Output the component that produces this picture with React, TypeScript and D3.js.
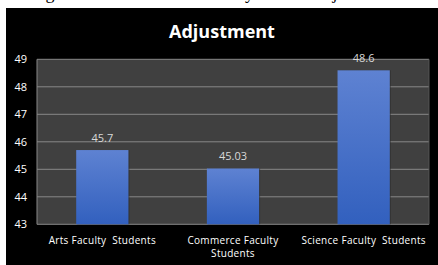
import React from "react";
import * as d3 from "d3";

const categories: string[][] = [
  ["Arts Faculty  Students"],
  ["Commerce Faculty", "Students"],
  ["Science Faculty  Students"],
];
const values: number[] = [45.7, 45.03, 48.6];
const valueLabels: string[] = ["45.7", "45.03", "48.6"];
const yTicks: number[] = [43, 44, 45, 46, 47, 48, 49];
const chartTitle = "Adjustment";

const W = 438;
const H = 265;
const plot = { left: 37, right: 429, top: 59.3, bottom: 224.3 };
const FONT = "'Open Sans', 'Noto Sans', sans-serif";

export default function App() {
  const x = d3
    .scaleBand<number>()
    .domain(values.map((_, i) => i))
    .range([plot.left, plot.right])
    .paddingInner(0.6)
    .paddingOuter(0.3);
  const y = d3.scaleLinear().domain([43, 49]).range([plot.bottom, plot.top]);

  return (
    <svg
      width={W}
      height={H}
      style={{ position: "fixed", left: 0, top: 0, display: "block" }}
    >
      <defs>
        <linearGradient id="barGrad" x1="0" y1="0" x2="0" y2="1">
          <stop offset="0%" stopColor="#5e82d2" />
          <stop offset="100%" stopColor="#3260be" />
        </linearGradient>
        <clipPath id="capClip">
          <rect x={0} y={0} width={W} height={8} />
        </clipPath>
      </defs>
      <rect x={0} y={0} width={W} height={H} fill="#ffffff" />
      {/* partially visible caption above the chart (cut off in the reference) */}
      <g clipPath="url(#capClip)">
        <text
          y={-1}
          fontFamily="'Liberation Serif', serif"
          fontSize={18}
          fill="#000"
        >
          <tspan x={30.5}>Figure 3:</tspan>
          <tspan x={200}>Faculty wise</tspan>
          <tspan x={310.5}>Adjustment</tspan>
        </text>
      </g>
      <rect x={6} y={8} width={W - 6} height={H - 8} fill="#000000" />
      <text
        x={(6 + W) / 2}
        y={38}
        textAnchor="middle"
        fontFamily={FONT}
        fontWeight={700}
        fontSize={18}
        fill="#ffffff"
      >
        {chartTitle}
      </text>
      <rect
        x={plot.left}
        y={plot.top}
        width={plot.right - plot.left}
        height={plot.bottom - plot.top}
        fill="#404040"
      />
      {yTicks.map((t) => (
        <g key={t}>
          <line
            x1={plot.left}
            x2={plot.right}
            y1={y(t)}
            y2={y(t)}
            stroke="#888888"
            strokeWidth={1}
          />
          <text
            x={27}
            y={y(t) + 4}
            textAnchor="end"
            fontFamily={FONT}
            fontSize={11}
            fill="#ffffff"
          >
            {t}
          </text>
        </g>
      ))}
      <line
        x1={plot.left}
        x2={plot.left}
        y1={plot.top}
        y2={plot.bottom}
        stroke="#888888"
      />
      <line
        x1={plot.right}
        x2={plot.right}
        y1={plot.top}
        y2={plot.bottom}
        stroke="#555555"
      />
      {values.map((v, i) => {
        const bx = x(i) as number;
        const bw = x.bandwidth();
        return (
          <g key={i}>
            <rect
              x={bx + 1}
              y={y(v)}
              width={bw}
              height={plot.bottom - y(v)}
              fill="#2a2a2a"
              opacity={0.6}
            />
            <rect
              x={bx}
              y={y(v)}
              width={bw}
              height={plot.bottom - y(v)}
              fill="url(#barGrad)"
            />
            <text
              x={bx + bw / 2}
              y={y(v) - 8.5}
              textAnchor="middle"
              fontFamily={FONT}
              fontSize={11}
              fill="#d9d9d9"
            >
              {valueLabels[i]}
            </text>
            <text
              x={bx + bw / 2}
              y={244}
              textAnchor="middle"
              fontFamily={FONT}
              fontSize={10}
              letterSpacing={0.3}
              fill="#ffffff"
              style={{ whiteSpace: "pre" }}
            >
              {categories[i].map((line, j) => (
                <tspan key={j} x={bx + bw / 2} dy={j === 0 ? 0 : 13}>
                  {line}
                </tspan>
              ))}
            </text>
          </g>
        );
      })}
    </svg>
  );
}
